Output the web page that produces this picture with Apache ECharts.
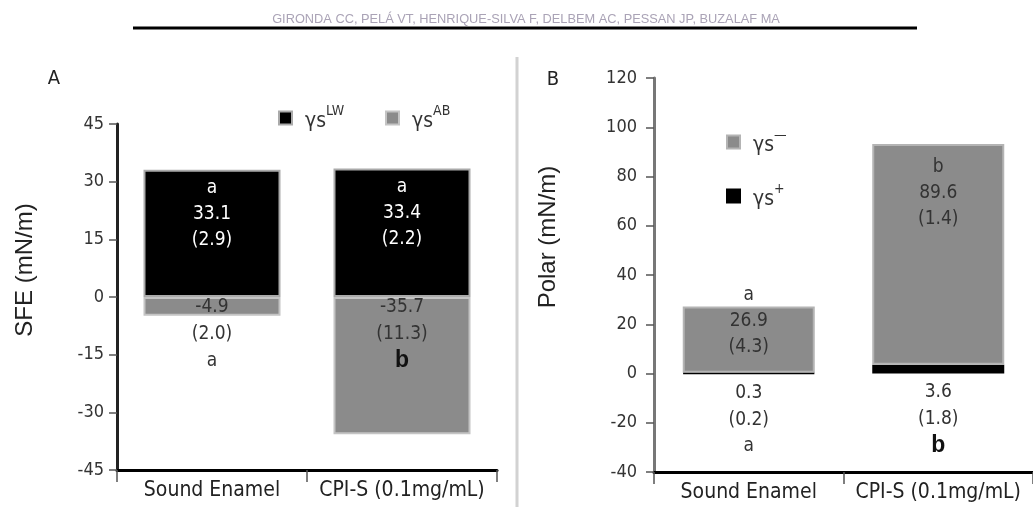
<!DOCTYPE html>
<html><head><meta charset="utf-8">
<script src="https://cdn.jsdelivr.net/npm/echarts@6/dist/echarts.min.js"></script>
<style>html,body{margin:0;padding:0;background:#fff}#c{width:1033px;height:507px}</style>
</head><body><div id="c"></div>
<script>
// ---- data ----
const categories = ['Sound Enamel', 'CPI-S (0.1mg/mL)'];
const sfeLW = [33.1, 33.4];
const sfeLWsd = [2.9, 2.2];
const sfeLWletters = ['a', 'a'];
const sfeAB = [-4.9, -35.7];
const sfeABsd = [2.0, 11.3];
const sfeABletters = ['a', 'b'];
const polarPlus = [0.3, 3.6];
const polarPlusSd = [0.2, 1.8];
const polarPlusLetters = ['a', 'b'];
const polarMinus = [26.9, 89.6];
const polarMinusSd = [4.3, 1.4];
const polarMinusLetters = ['a', 'b'];
const headerText = 'GIRONDA CC, PELÁ VT, HENRIQUE-SILVA F, DELBEM AC, PESSAN JP, BUZALAF MA';

// ---- styles ----
const NARROW = '"DejaVu Sans Condensed", "Liberation Sans", sans-serif';
const SANS = '"Liberation Sans", Arial, sans-serif';
const BLACK = '#000000';
const GRAY = '#8b8b8b';
const TXT = '#333333';

const letterTok = l => l === 'b' ? '{lb|' + l + '}' : '{l|' + l + '}';
const richLetters = {
  l: { fontSize: 19, lineHeight: 26, fontFamily: NARROW, color: TXT },
  lb: { fontSize: 23, lineHeight: 26, fontFamily: SANS, fontWeight: 'bold', color: '#111' }
};

const chart = echarts.init(document.getElementById('c'), null, { renderer: 'canvas' });

const legendRich = {
  g: { fontSize: 21, fontFamily: NARROW, color: TXT, verticalAlign: 'bottom', lineHeight: 28 },
  p: { fontSize: 14, fontFamily: NARROW, color: TXT, verticalAlign: 'top', lineHeight: 28 }
};
const legendNames = {
  'γsLW': '{g|γs}{p|LW}',
  'γsAB': '{g|γs}{p|AB}',
  'γs-': '{g|γs}{p|—}',
  'γs+': '{g|γs}{p|+}'
};
function mkLegend(name, left, top) {
  return {
    data: [name], left: left, top: top, orient: 'vertical',
    icon: 'rect', itemWidth: 13, itemHeight: 13, itemGap: 0, padding: 0,
    selectedMode: false,
    formatter: n => legendNames[n],
    textStyle: { rich: legendRich, padding: [0, 0, 0, 8] }
  };
}

function yAxisCommon(min, max, interval, lineColor, margin) {
  return {
    type: 'value', min: min, max: max, interval: interval,
    axisLine: { show: true, onZero: false, lineStyle: { color: lineColor, width: 3 } },
    axisTick: { show: true, length: 8, lineStyle: { color: '#555', width: 1.5 } },
    axisLabel: { fontSize: 18, fontFamily: NARROW, color: TXT, margin: margin },
    splitLine: { show: false }
  };
}
function xAxisCommon(gridIndex) {
  return {
    type: 'category', gridIndex: gridIndex, data: categories,
    axisLine: { show: true, onZero: false, lineStyle: { color: BLACK, width: 3 } },
    axisTick: { show: true, length: 12, interval: 0, lineStyle: { color: '#555', width: 1.5 } },
    axisLabel: { fontSize: 21, fontFamily: NARROW, color: '#222', margin: 10, interval: 0 },
    splitLine: { show: false }
  };
}

const option = {
  animation: false,
  backgroundColor: '#ffffff',
  grid: [
    { left: 117, right: 536, top: 124, bottom: 37 },
    { left: 654, right: 0, top: 78, bottom: 35 }
  ],
  legend: [
    mkLegend('γsLW', 278, 104),
    mkLegend('γsAB', 385, 104),
    mkLegend('γs-', 726, 128),
    mkLegend('γs+', 726, 182)
  ],
  xAxis: [xAxisCommon(0), xAxisCommon(1)],
  yAxis: [
    Object.assign(yAxisCommon(-45, 45, 15, '#222', 13), { gridIndex: 0 }),
    Object.assign(yAxisCommon(-40, 120, 20, '#777', 17), { gridIndex: 1 })
  ],
  series: [
    {
      name: 'γsLW', type: 'bar', stack: 'A', xAxisIndex: 0, yAxisIndex: 0,
      barWidth: 137, data: sfeLW,
      itemStyle: { color: BLACK, borderColor: '#aaaaaa', borderWidth: 2 },
      label: {
        show: true, position: 'insideTop', distance: 5,
        color: '#ffffff', fontSize: 19, lineHeight: 26, fontFamily: NARROW,
        formatter: p => [sfeLWletters[p.dataIndex], sfeLW[p.dataIndex].toFixed(1),
          '(' + sfeLWsd[p.dataIndex].toFixed(1) + ')'].join('\n')
      }
    },
    {
      name: 'γsAB', type: 'bar', stack: 'A', xAxisIndex: 0, yAxisIndex: 0,
      barWidth: 137, data: sfeAB,
      itemStyle: { color: GRAY, borderColor: '#c4c4c4', borderWidth: 2 },
      label: {
        show: true, position: 'insideTop', distance: -3,
        color: TXT, fontSize: 19, lineHeight: 27, fontFamily: NARROW, rich: richLetters,
        formatter: p => [sfeAB[p.dataIndex].toFixed(1),
          '(' + sfeABsd[p.dataIndex].toFixed(1) + ')', letterTok(sfeABletters[p.dataIndex])].join('\n')
      }
    },
    {
      name: 'γs+', type: 'bar', stack: 'B', xAxisIndex: 1, yAxisIndex: 1,
      barWidth: 132, data: polarPlus,
      itemStyle: { color: BLACK, borderColor: '#000000', borderWidth: 2 },
      label: {
        show: true, position: 'bottom', distance: 5,
        color: TXT, fontSize: 19, lineHeight: 27, fontFamily: NARROW, rich: richLetters,
        formatter: p => [polarPlus[p.dataIndex].toFixed(1),
          '(' + polarPlusSd[p.dataIndex].toFixed(1) + ')', letterTok(polarPlusLetters[p.dataIndex])].join('\n')
      }
    },
    {
      name: 'γs-', type: 'bar', stack: 'B', xAxisIndex: 1, yAxisIndex: 1,
      barWidth: 132,
      data: polarMinus.map(v => ({ value: v, label: { distance: v > 50 ? 10 : -24 } })),
      itemStyle: { color: GRAY, borderColor: '#b4b4b4', borderWidth: 2 },
      label: {
        show: true, position: 'insideTop',
        color: TXT, fontSize: 19, lineHeight: 26, fontFamily: NARROW,
        formatter: p => [polarMinusLetters[p.dataIndex], polarMinus[p.dataIndex].toFixed(1),
          '(' + polarMinusSd[p.dataIndex].toFixed(1) + ')'].join('\n')
      }
    }
  ],
  graphic: [
    { type: 'text', x: 526, y: 19, style: { text: headerText, fontSize: 12.8, fontFamily: SANS, fill: '#aaa3b6', align: 'center', verticalAlign: 'middle' } },
    { type: 'line', shape: { x1: 133, y1: 28, x2: 917, y2: 28 }, style: { stroke: '#000', lineWidth: 3 } },
    { type: 'line', shape: { x1: 517, y1: 57, x2: 517, y2: 507 }, style: { stroke: '#d2d2d2', lineWidth: 3 } },
    { type: 'text', x: 54, y: 79, style: { text: 'A', fontSize: 20, fontFamily: NARROW, fill: '#222', align: 'center', verticalAlign: 'middle' } },
    { type: 'text', x: 553, y: 80, style: { text: 'B', fontSize: 20, fontFamily: NARROW, fill: '#222', align: 'center', verticalAlign: 'middle' } },
    { type: 'text', x: 25, y: 270, rotation: Math.PI / 2, style: { text: 'SFE (mN/m)', fontSize: 24, fontFamily: SANS, fill: '#222', align: 'center', verticalAlign: 'middle' } },
    { type: 'text', x: 548, y: 237, rotation: Math.PI / 2, style: { text: 'Polar (mN/m)', fontSize: 24, fontFamily: SANS, fill: '#222', align: 'center', verticalAlign: 'middle' } }
  ]
};
chart.setOption(option);
</script>
</body></html>
